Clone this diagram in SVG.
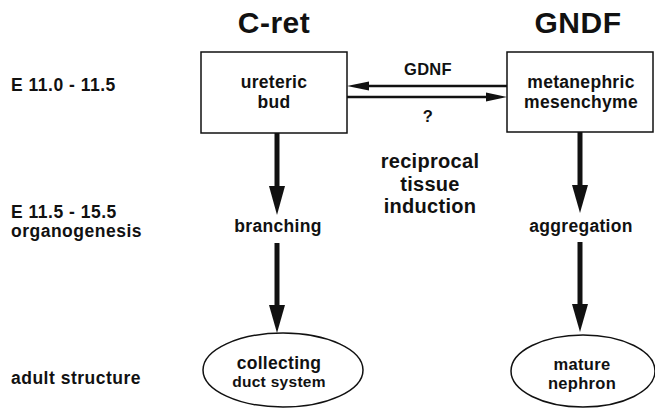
<svg xmlns="http://www.w3.org/2000/svg" width="655" height="409" viewBox="0 0 655 409">
<style>
text{font-family:"Liberation Sans",Arial,Helvetica,sans-serif;font-weight:bold;fill:#111;}
.title{font-size:30px;text-anchor:middle;letter-spacing:0.5px;}
.lbl{font-size:17.5px;letter-spacing:0.5px;}
.node{font-size:17.5px;text-anchor:middle;letter-spacing:0.3px;}
.small{font-size:15.5px;text-anchor:middle;letter-spacing:0.3px;}
.big{font-size:20px;text-anchor:middle;letter-spacing:0.3px;}
.box{fill:#fff;stroke:#111;stroke-width:1.5;}
.shaft{stroke:#111;stroke-width:5;fill:none;}
.thin{stroke:#111;stroke-width:2.5;fill:none;}
.head{fill:#111;stroke:none;}
</style>
<rect width="655" height="409" fill="#fff"/>
<text class="title" x="274" y="33">C-ret</text>
<text class="title" x="578" y="33">GNDF</text>
<text class="lbl" x="11" y="91">E 11.0 - 11.5</text>
<text class="lbl" x="11" y="218">E 11.5 - 15.5</text>
<text class="lbl" x="11" y="237">organogenesis</text>
<text class="lbl" x="11" y="384">adult structure</text>
<text class="big" x="430" y="168">reciprocal</text>
<text class="big" x="430" y="191">tissue</text>
<text class="big" x="430" y="213">induction</text>
<g id="connectors">
<line class="thin" x1="367" y1="86" x2="507" y2="86"/>
<polygon class="head" points="347,86 369,81.5 369,90.5"/>
<line class="thin" x1="347" y1="97" x2="488" y2="97"/>
<polygon class="head" points="507,97 486,92.5 486,101.5"/>
<line class="shaft" x1="277" y1="133" x2="277" y2="190"/>
<polygon class="head" points="269,186 285,186 277,215"/>
<line class="shaft" x1="580" y1="132" x2="580" y2="189"/>
<polygon class="head" points="572,185 588,185 580,213"/>
<line class="shaft" x1="277" y1="243" x2="277" y2="309"/>
<polygon class="head" points="269,305 285,305 277,333"/>
<line class="shaft" x1="580" y1="242" x2="580" y2="308"/>
<polygon class="head" points="572,304 588,304 580,332"/>
<text class="node" x="428" y="75" style="font-size:16.5px">GDNF</text>
<text class="node" x="428" y="122" style="font-size:16.5px">?</text>
</g>
<g id="ureteric-bud">
<rect class="box" x="201" y="52" width="146" height="81"/>
<text class="node" x="274" y="88">ureteric</text>
<text class="node" x="274" y="108">bud</text>
</g>
<g id="metanephric-mesenchyme">
<rect class="box" x="507" y="52" width="146" height="80"/>
<text class="node" x="581" y="88">metanephric</text>
<text class="node" x="581" y="108">mesenchyme</text>
</g>
<g id="branching">
<text class="node" x="278" y="232">branching</text>
</g>
<g id="aggregation">
<text class="node" x="581" y="232">aggregation</text>
</g>
<g id="collecting-duct">
<ellipse class="box" cx="283" cy="370" rx="80" ry="37"/>
<text class="node" x="279" y="369">collecting</text>
<text class="small" x="279" y="387">duct system</text>
</g>
<g id="mature-nephron">
<ellipse class="box" cx="583" cy="371" rx="72" ry="36"/>
<text class="node" x="582" y="370" style="font-size:16.5px">mature</text>
<text class="node" x="582" y="389" style="font-size:16.5px">nephron</text>
</g>
</svg>
